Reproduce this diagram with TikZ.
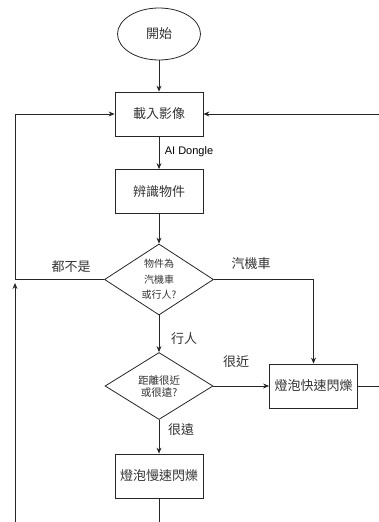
\documentclass[tikz,border=0pt]{standalone}
\usepackage{fontspec}
\setmainfont{Liberation Sans}
\newfontfamily\cjk{Noto Sans CJK TC}
\usetikzlibrary{shapes.geometric,arrows.meta}
\definecolor{ink}{HTML}{333333}
\tikzset{
  line/.style={draw=black!85, line width=0.8pt},
  arr/.style={line, -{Stealth[length=6pt,width=5pt]}},
  boxnode/.style={draw=black!85, line width=0.8pt, rectangle, minimum width=88pt, minimum height=44pt, inner sep=0pt, text=ink, font=\cjk\fontsize{13}{15}\selectfont},
  startnode/.style={draw=black!85, line width=0.8pt, ellipse, minimum width=83pt, minimum height=52pt, inner sep=0pt, text=ink, font=\cjk\fontsize{13}{15}\selectfont},
  decnode/.style={draw=black!85, line width=0.8pt, diamond, aspect=1.5, inner sep=0pt, align=center, text=ink},
  lbl/.style={inner sep=0pt, text=ink, font=\cjk\fontsize{13}{15}\selectfont}
}
\begin{document}
\begin{tikzpicture}[x=1pt,y=-1pt]
\useasboundingbox (0,0) rectangle (379,522);
\node[startnode] (start) at (159,34) {開始};
\node[boxnode] (load) at (159,114) {載入影像};
\node[boxnode] (recog) at (159,191.5) {辨識物件};
\node[decnode, minimum width=109pt, minimum height=71pt, font=\cjk\fontsize{10}{15.5}\selectfont] (d1) at (159,279.5) {物件為\\汽機車\\或行人?};
\node[decnode, minimum width=108pt, minimum height=67pt, font=\cjk\fontsize{10.5}{12}\selectfont] (d2) at (159,386) {距離很近\\或很遠?};
\node[boxnode] (fast) at (313.5,386) {燈泡快速閃爍};
\node[boxnode] (slow) at (159,476) {燈泡慢速閃爍};

\coordinate (lc) at (15,279.5);
\coordinate (la) at (15,283);
\coordinate (lb) at (15,522);
\coordinate (rt) at (379,114);
\coordinate (rb) at (379,386);
\coordinate (sb) at (159,522);

\draw[arr] (start) -- (load);
\draw[arr] (load) -- (recog);
\node[inner sep=0pt, text=black, font=\fontsize{11}{13}\selectfont] (ai) at (189,152) {AI Dongle};
\draw[arr] (recog) -- (d1);
\draw[arr] (d1.west) -- (lc) |- (load.west);
\draw[arr] (lb) -- (la);
\draw[arr] (rt) -- (load.east);
\draw[arr] (d1.east) -| (fast.north);
\draw[arr] (d1.south) -- (d2.north);
\draw[arr] (d2.east) -- (fast.west);
\draw[arr] (d2.south) -- (slow.north);
\draw[line] (fast.east) -- (rb);
\draw[line] (slow.south) -- (sb);

\node[lbl] (l1) at (71,267) {都不是};
\node[lbl] (l2) at (251,264) {汽機車};
\node[lbl] (l3) at (184,339) {行人};
\node[lbl] (l4) at (236,362) {很近};
\node[lbl] (l5) at (181,430) {很遠};
\end{tikzpicture}
\end{document}
